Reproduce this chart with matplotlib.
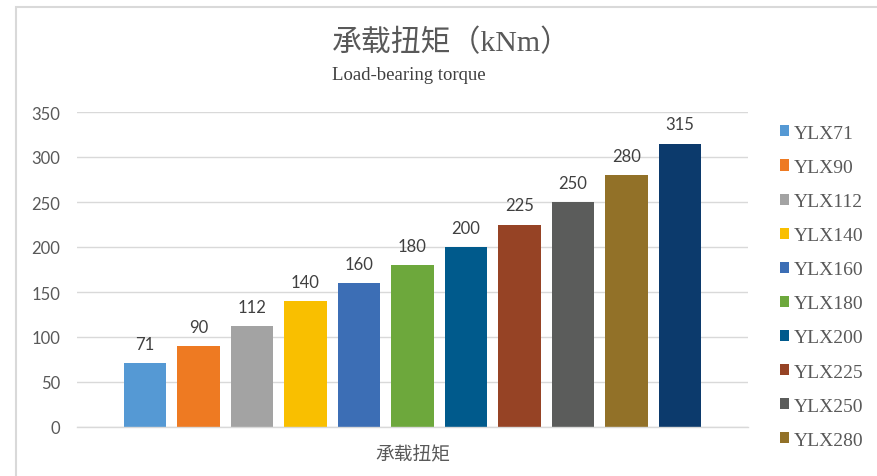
import matplotlib
matplotlib.use("Agg")
import matplotlib.pyplot as plt
from matplotlib.patches import Rectangle

plt.rcParams['font.family'] = ['Lato', 'Noto Sans CJK SC', 'DejaVu Sans']

category = "承载扭矩"
series_names = ["YLX71", "YLX90", "YLX112", "YLX140", "YLX160", "YLX180",
                "YLX200", "YLX225", "YLX250", "YLX280", "YLX315"]
values = [71, 90, 112, 140, 160, 180, 200, 225, 250, 280, 315]
colors = ["#5599D4", "#EE7A22", "#A3A3A3", "#F9BF00", "#3C6EB5", "#6DA83C",
          "#005A8C", "#964325", "#5B5C5B", "#927128", "#0C3A6C"]
yticks = [0, 50, 100, 150, 200, 250, 300, 350]
title = "承载扭矩（kNm）"
subtitle = "Load-bearing torque"

W, H = 878, 477
fig = plt.figure(figsize=(W / 100, H / 100), dpi=100)
fig.patch.set_facecolor("white")

# chart-area border
fig.add_artist(Rectangle((16 / W, -0.1), 2, (H - 8) / H + 0.1,
                         transform=fig.transFigure, fill=False,
                         edgecolor="#d9d9d9", lw=1.5))

ax_l, ax_r, ax_t, ax_b = 77, 748, 113, 428
ax = fig.add_axes([ax_l / W, (H - ax_b) / H, (ax_r - ax_l) / W, (ax_b - ax_t) / H])

n = len(values)
handles = []
for i, (name, v, c) in enumerate(zip(series_names, values, colors)):
    bars = ax.bar(i - (n - 1) / 2, v, width=0.79, color=c, label=name, zorder=3)
    ax.bar_label(bars, labels=[str(v)], padding=8, fontsize=12, color="#404040",
                 family=['Lato', 'DejaVu Sans'])
    handles.append(bars)

ax.set_ylim(0, 350)
ax.set_xlim(-6.27, 6.27)
ax.set_yticks(yticks)
ax.set_yticklabels([str(t) for t in yticks])
ax.tick_params(axis='y', length=0, pad=12, labelsize=12, labelcolor="#595959")
ax.set_xticks([0])
ax.set_xticklabels([category], fontsize=13.5, color="#595959",
                   family=['Noto Sans CJK SC', 'DejaVu Sans'])
ax.tick_params(axis='x', length=0, pad=12)
ax.yaxis.grid(True, color="#d9d9d9", lw=1, zorder=0)
ax.set_axisbelow(True)
for s in ["left", "right", "top"]:
    ax.spines[s].set_visible(False)
ax.spines["bottom"].set_color("#d9d9d9")
ax.spines["bottom"].set_linewidth(1)
ax.spines["bottom"].set_zorder(4)

# title and subtitle
fig.text(332 / W, 1 - 43 / H, title, ha="left", va="center", fontsize=21.5,
         color="#595959", family=['Liberation Serif', 'Noto Sans CJK SC'])
fig.text(332 / W, 1 - 75 / H, subtitle, ha="left", va="center", fontsize=13.5,
         color="#404040", family=['Liberation Serif'])

# legend (only 10 entries fit in the reference)
leg = ax.legend(handles=handles[:10], labels=series_names[:10],
                loc="upper left", bbox_to_anchor=(772 / W, 1 - 118 / H),
                bbox_transform=fig.transFigure, frameon=False,
                prop={'family': 'Liberation Serif', 'size': 14},
                handlelength=0.5, handleheight=0.5, handletextpad=0.2,
                labelspacing=0.88, borderaxespad=0)
for t in leg.get_texts():
    t.set_color("#595959")

fig.savefig("out.png", dpi=100)
